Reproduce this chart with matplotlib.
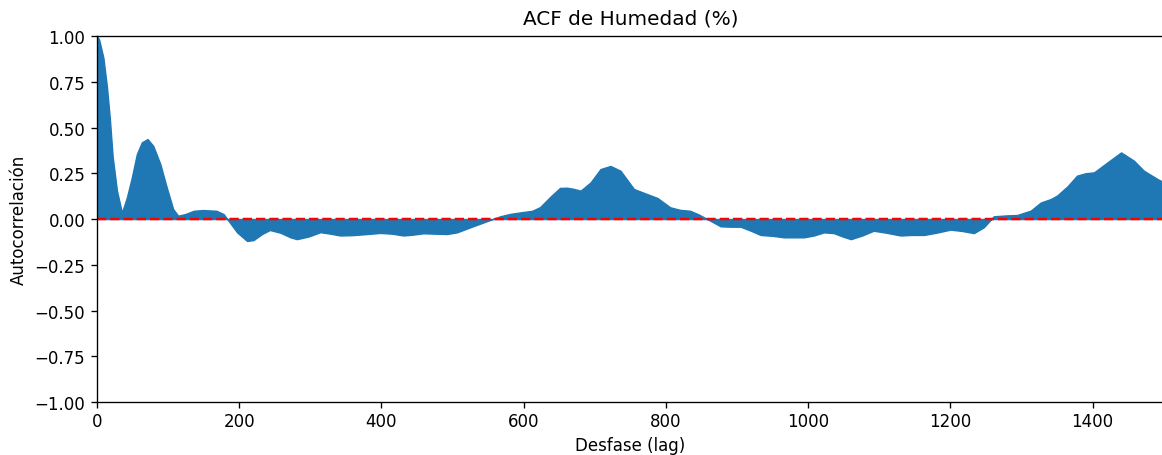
import matplotlib
matplotlib.use("Agg")
import matplotlib.pyplot as plt

lags = [0, 3, 9, 14, 18, 22, 28, 35, 42, 49, 56, 63, 71, 79, 89, 98, 107, 114, 124, 136,
        149, 168, 178, 185, 197, 211, 220, 232, 243, 258, 272, 281, 298, 314, 328, 342, 360,
        380, 398, 415, 431, 445, 459, 475, 492, 506, 525, 539, 553, 567, 581, 595, 612, 623,
        637, 651, 661, 670, 680, 694, 708, 722, 736, 755, 773, 788, 806, 820, 834, 846, 858,
        877, 891, 905, 920, 933, 950, 966, 980, 994, 1008, 1022, 1036, 1048, 1060, 1076, 1092,
        1110, 1130, 1145, 1163, 1180, 1200, 1216, 1233, 1247, 1261, 1280, 1294, 1313, 1327,
        1341, 1350, 1365, 1378, 1390, 1402, 1421, 1440, 1458, 1472, 1491, 1500]
acf = [1.0, 0.98, 0.88, 0.72, 0.55, 0.34, 0.155, 0.035, 0.118, 0.228, 0.355, 0.419, 0.437,
       0.40, 0.30, 0.173, 0.055, 0.018, 0.027, 0.045, 0.049, 0.045, 0.027, -0.01, -0.073,
       -0.12, -0.115, -0.082, -0.06, -0.075, -0.1, -0.11, -0.095, -0.072, -0.08, -0.09, -0.088,
       -0.082, -0.076, -0.08, -0.09, -0.085, -0.078, -0.08, -0.082, -0.073, -0.045, -0.025,
       -0.005, 0.015, 0.028, 0.036, 0.045, 0.065, 0.12, 0.17, 0.171, 0.165, 0.155, 0.2, 0.273,
       0.29, 0.264, 0.164, 0.137, 0.115, 0.064, 0.05, 0.045, 0.025, 0.0, -0.04, -0.042, -0.042,
       -0.065, -0.087, -0.092, -0.1, -0.1, -0.1, -0.09, -0.073, -0.077, -0.095, -0.11, -0.09,
       -0.064, -0.075, -0.09, -0.087, -0.087, -0.075, -0.058, -0.065, -0.077, -0.045, 0.015,
       0.02, 0.022, 0.046, 0.09, 0.109, 0.128, 0.18, 0.237, 0.25, 0.255, 0.31, 0.364, 0.319,
       0.264, 0.219, 0.2]
yticks = [-1, -0.75, -0.5, -0.25, 0, 0.25, 0.5, 0.75, 1.0]
xticks = [0, 200, 400, 600, 800, 1000, 1200, 1400]

title = "ACF de Humedad (%)"
xlabel = "Desfase (lag)"
ylabel = "Autocorrelación"

s = 1.2
plt.rcParams.update({
    "font.size": 10 * s,
    "axes.linewidth": 0.8 * s,
    "xtick.major.size": 3.5 * s,
    "ytick.major.size": 3.5 * s,
    "xtick.major.width": 0.8 * s,
    "ytick.major.width": 0.8 * s,
    "xtick.major.pad": 3.0,
    "ytick.major.pad": 3.5 * s,
    "axes.labelpad": 4 * s,
    "axes.titlepad": 6 * s + 2,
})

fig = plt.figure(figsize=(11.62, 4.56), dpi=100)
ax = fig.add_axes([0.0835, 0.1162, 0.918, 0.8026])
ax.fill_between(lags, acf, 0, color="#1f77b4", linewidth=1.0, edgecolor="#1f77b4")
ax.axhline(0, color="red", linestyle="--", linewidth=1.5 * s)
ax.set_xlim(0, 1500)
ax.set_ylim(-1, 1)
ax.set_yticks(yticks)
ax.set_yticklabels([f"{v:.2f}".replace("-", "\u2212") for v in yticks])
ax.set_xticks(xticks)
ax.spines["right"].set_visible(False)
ax.set_title(title, fontsize=12 * s)
ax.set_xlabel(xlabel, labelpad=4.0)
ax.set_ylabel(ylabel)
fig.savefig("out.png", dpi=100)
